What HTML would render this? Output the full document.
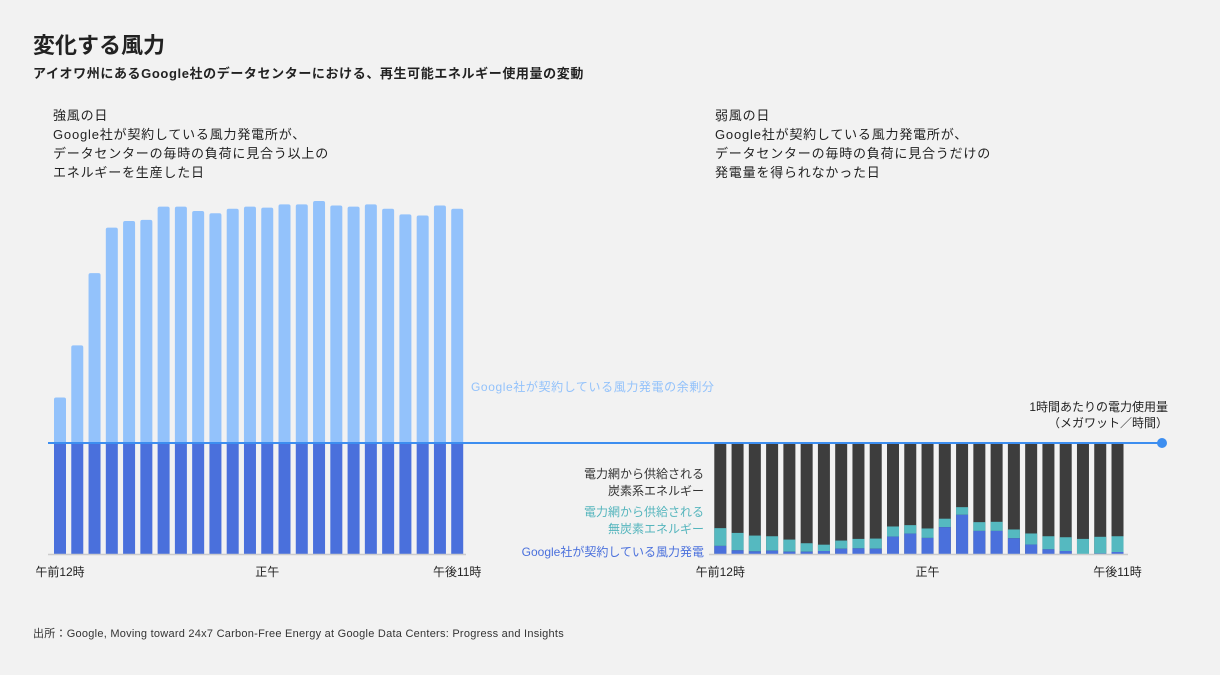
<!DOCTYPE html>
<html><head><meta charset="utf-8"><style>
html,body{margin:0;padding:0;background:#f2f2f2;}
body{width:1220px;height:675px;position:relative;overflow:hidden;font-family:"Liberation Sans","Noto Sans CJK JP",sans-serif;color:#222;}
.t{position:absolute;white-space:nowrap;}
</style></head><body>
<div class="t" style="left:33px;top:28px;font-size:22px;font-weight:bold;">変化する風力</div>
<div class="t" style="left:33px;top:63px;font-size:13px;font-weight:bold;letter-spacing:0.6px;">アイオワ州にあるGoogle社のデータセンターにおける、再生可能エネルギー使用量の変動</div>
<div class="t" style="left:53px;top:106px;font-size:13px;line-height:19px;letter-spacing:0.8px;">強風の日<br>Google社が契約している風力発電所が、<br>データセンターの毎時の負荷に見合う以上の<br>エネルギーを生産した日</div>
<div class="t" style="left:715px;top:106px;font-size:13px;line-height:19px;letter-spacing:0.8px;">弱風の日<br>Google社が契約している風力発電所が、<br>データセンターの毎時の負荷に見合うだけの<br>発電量を得られなかった日</div>
<div class="t" style="left:471px;top:378px;font-size:12px;letter-spacing:0.6px;color:#93c2fb;">Google社が契約している風力発電の余剰分</div>
<div class="t" style="right:52px;top:399px;font-size:12px;line-height:16px;text-align:right;">1時間あたりの電力使用量<br>（メガワット／時間）</div>
<div class="t" style="right:516px;top:466px;font-size:12px;line-height:17px;text-align:right;color:#333;">電力網から供給される<br>炭素系エネルギー</div>
<div class="t" style="right:516px;top:504px;font-size:12px;line-height:17px;text-align:right;color:#55b5bd;">電力網から供給される<br>無炭素エネルギー</div>
<div class="t" style="right:516px;top:543px;font-size:12px;color:#4a70dc;">Google社が契約している風力発電</div>
<div class="t" style="left:33px;top:625px;font-size:11px;letter-spacing:0.25px;color:#333;">出所：Google, Moving toward 24x7 Carbon-Free Energy at Google Data Centers: Progress and Insights</div>
<svg id="c" width="1220" height="675" style="position:absolute;left:0;top:0"></svg>
<script>
const hours = Array.from({length:24},(_,i)=>i);
const windyWind = [141,188,253,294,300,301,313,313,309,307,311,313,312,315,315,318,314,313,315,311,306,305,314,311];
const calmWind = [7.3,3.3,2.4,3,2.1,2.1,2.7,4.8,5.1,4.8,15.7,18.4,14.5,24.2,35.3,20.8,20.8,14.2,8.5,4.2,2.7,0,0.5,1.8];
const calmCarbonFree = [16,15.7,14.2,13,10.9,7.6,5.7,7.3,8.5,9.1,9.1,7.6,8.5,7.6,6.9,7.9,8.2,7.9,10,11.8,12.4,13.6,15,14.2];
const tickLabels = ['午前12時','正午','午後11時'];
const tickHours = [0,12,23];
const NS='http://www.w3.org/2000/svg';
const svg=document.getElementById('c');
const base=554, unit=111/100, pitch=17.27, bw=12;
function y(v){return base-v*unit;}
function xL(i){return 54+i*pitch;}
function xR(i){return 714.3+i*pitch;}
function rect(x,y0,w,h,fill,name){const r=document.createElementNS(NS,'rect');r.setAttribute('x',x);r.setAttribute('y',y0);r.setAttribute('width',w);r.setAttribute('height',Math.max(0,h));r.setAttribute('fill',fill);


svg.appendChild(r);return r;}
function line(x1,y1,x2,y2,c,w,name){const l=document.createElementNS(NS,'line');l.setAttribute('x1',x1);l.setAttribute('y1',y1);l.setAttribute('x2',x2);l.setAttribute('y2',y2);l.setAttribute('stroke',c);l.setAttribute('stroke-width',w);


svg.appendChild(l);}
function text(x,yy,s,name){const t=document.createElementNS(NS,'text');t.setAttribute('x',x);t.setAttribute('y',yy);t.setAttribute('text-anchor','middle');t.setAttribute('font-size','12');t.setAttribute('fill','#222');t.textContent=s;


svg.appendChild(t);}
hours.forEach(i=>{
  const wv=windyWind[i];
  const s=rect(xL(i),y(wv),bw,y(100)-y(wv)+3,'#93c2fb','windy-surplus-bar');
  s.setAttribute('rx',2);
  rect(xL(i),y(100),bw,base-y(100),'#4a70dc','windy-wind-bar');
  const w=calmWind[i], cf=calmCarbonFree[i];
  rect(xR(i),y(100),bw,base-y(100),'#3d3d3d','calm-carbon-bar');
  rect(xR(i),y(w+cf),bw,y(w)-y(w+cf),'#55b9c0','calm-carbon-free-bar');
  rect(xR(i),y(w),bw,base-y(w),'#4a70dc','calm-wind-bar');
});
line(48,base+0.5,466,base+0.5,'#ccc',1.5,'windy-x-axis');
line(709,base+0.5,1128,base+0.5,'#ccc',1.5,'calm-x-axis');
line(48,y(100),1162,y(100),'#3d8ef0',2,'load-line');
const c=document.createElementNS(NS,'circle');c.setAttribute('cx',1162);c.setAttribute('cy',y(100));c.setAttribute('r',5);c.setAttribute('fill','#3d8ef0');


svg.appendChild(c);
tickLabels.forEach((s,k)=>{
  text(xL(tickHours[k])+bw/2,576,s,'windy-x-tick');
  text(xR(tickHours[k])+bw/2,576,s,'calm-x-tick');
});
</script>
</body></html>
